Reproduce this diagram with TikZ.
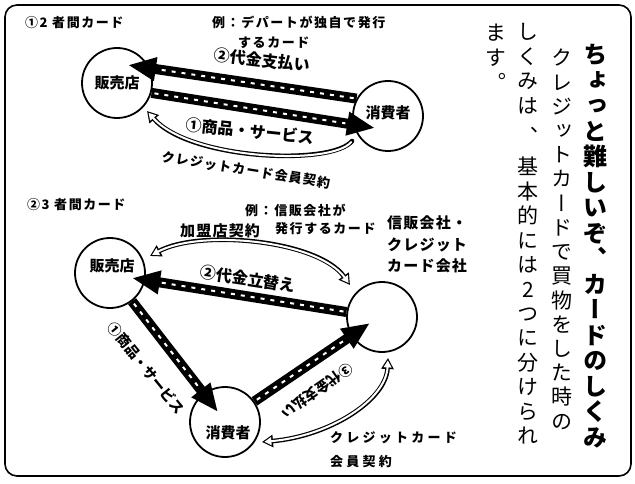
\documentclass[tikz,border=0pt]{standalone}
\usepackage{fontspec}
\usetikzlibrary{arrows.meta}
\newfontfamily\jp{Noto Sans CJK JP}
\newfontfamily\jpv[RawFeature=+vert]{Noto Sans CJK JP}
\newcommand\jfs[1]{\fontsize{#1}{#1}\selectfont}
\begin{document}
\begin{tikzpicture}[x=1pt,y=-1pt,
  circ/.style={circle,draw,line width=1.8pt,minimum size=70pt,inner sep=0pt,fill=white},
  ctext/.style={inner sep=0pt,font=\jp\bfseries\jfs{15}},
  bigar/.style={line width=10pt,-{Triangle[length=28pt,width=22pt]},
     postaction={draw=white,line width=2pt,arrows=-,dash pattern=on 4pt off 6pt,shorten >=30pt,shorten <=3pt}},
  holone/.style={line width=4.6pt,line cap=round,-{Triangle[length=11pt,width=12pt]},
     postaction={draw=white,line width=2pt,-{Triangle[length=7pt,width=7.6pt]},shorten >=2.4pt,shorten <=1.3pt}},
  holtwo/.style={line width=4.6pt,{Triangle[length=11pt,width=12pt]}-{Triangle[length=11pt,width=12pt]},
     postaction={draw=white,line width=2pt,{Triangle[length=7pt,width=7.6pt]}-{Triangle[length=7pt,width=7.6pt]},shorten >=2.4pt,shorten <=2.4pt}},
  head/.style={inner sep=0pt,anchor=west,font=\jp\bfseries\jfs{13}\addfontfeature{LetterSpace=12}},
  arlab/.style={inner sep=0pt,font=\jp\bfseries\jfs{16}},
  arlabs/.style={inner sep=0pt,font=\jp\bfseries\jfs{14}},
  smlab/.style={inner sep=0pt,font=\jp\bfseries\jfs{13}\addfontfeature{LetterSpace=10}},
  wlab/.style={inner sep=0pt,anchor=west,font=\jp\bfseries\jfs{13}\addfontfeature{LetterSpace=25}},
  cardlab/.style={inner sep=0pt,anchor=west,font=\jp\bfseries\jfs{15}\addfontfeature{LetterSpace=8}},
  vtitle/.style={inner sep=0pt,font=\jpv\bfseries\jfs{24},text height=21pt,text depth=3pt},
  vbody/.style={inner sep=0pt,font=\jpv\jfs{21},text height=18.5pt,text depth=2.5pt}
]
\useasboundingbox (0,0) rectangle (635,484);
\draw[line width=1.6pt,rounded corners=12pt] (5,5) rectangle (631,476);

% ---- top diagram
\node[head] (hd1) at (25,23) {①2 者間カード};
\node[head] (ex1a) at (212,22) {例：デパートが独自で発行};
\node[head] (ex1b) at (238,43) {するカード};

\node[circ] (shopA) at (117,83) {};
\node[circ] (consA) at (388,116) {};

\coordinate (hA1) at (352,141);
\coordinate (hA2) at (147,111);
\draw[holone] (hA1) .. controls (332,166) and (190,160) .. (hA2);

\coordinate (tA1) at (128,65);
\coordinate (tA2) at (375,128);
\draw[bigar] (consA.151) -- (tA1);
\draw[bigar] (shopA.-16) -- (tA2);

\node[ctext] (sAt) at (117,83) {販売店};
\node[ctext] (cAt) at (388,113) {消費者};

\node[arlab,rotate=-7] (lA1) at (262,60) {②代金支払い};
\node[arlab,rotate=-6] (lA2) at (250,131) {①商品・サービス};
\node[smlab,rotate=-9] (lA3) at (246,170) {クレジットカード会員契約};

% ---- bottom diagram
\node[head] (hd2) at (27,205) {②3 者間カード};
\node[head] (ex2a) at (245,210) {例：信販会社が};
\node[head] (ex2b) at (275,229) {発行するカード};
\node[cardlab] (kam) at (180,231) {加盟店契約};
\node[cardlab] (cb1) at (387,223) {信販会社・};
\node[cardlab] (cb2) at (387,245) {クレジット};
\node[cardlab] (cb3) at (387,266) {カード会社};

\node[circ] (shopB) at (110,273) {};
\node[circ] (cardB) at (382,317) {};
\node[circ] (consB) at (225,422) {};

\coordinate (hB1) at (150,256);
\coordinate (hB2) at (350,285);
\draw[holtwo] (hB1) .. controls (200,229) and (318,240) .. (hB2);
\coordinate (hB3) at (262,442);
\coordinate (hB4) at (388,358);
\draw[holtwo] (hB3) .. controls (330,436) and (386,400) .. (hB4);

\coordinate (tB1) at (132,278);
\coordinate (tB2) at (218,412);
\coordinate (tB3) at (370,323);
\draw[bigar] (cardB.172) -- (tB1);
\draw[bigar] (shopB.-52) -- (tB2);
\draw[bigar] (consB.35) -- (tB3);

\node[ctext] (sBt) at (112,266) {販売店};
\node[ctext] (cBt) at (228,433) {消費者};

\node[arlab,rotate=-8.7] (lB1) at (248,279) {②代金立替え};
\node[arlabs,rotate=-51] (lB2) at (146,368) {①商品・サービス};
\node[arlabs,rotate=-145] (lB3) at (317,391) {③代金支払い};

\node[wlab] (kc1) at (330,438) {クレジットカード};
\node[wlab] (kc2) at (330,462) {会員契約};

% ---- vertical text
\foreach \c [count=\i from 0] in {ち,ょ,っ,と,難,し,い,ぞ,、,カ,ー,ド,の,し,く,み}
  \node[vtitle] (tt\i) at (595,{55+25.47*\i}) {\c};
\foreach \c [count=\i from 0] in {ク,レ,ジ,ッ,ト,カ,ー,ド,で,買,物,を,し,た,時,の}
  \node[vbody] (ba\i) at (562,{58+24.2*\i}) {\c};
\foreach \c [count=\i from 0] in {し,く,み,は}
  \node[vbody] (bb\i) at (528,{32+24.5*\i}) {\c};
\node[vbody] (bbc) at (528,137) {、};
\foreach \c [count=\i from 0] in {基,本,的,に,は,2,つ,に,分,け,ら,れ}
  \node[vbody] (bd\i) at (528,{167+24.4*\i}) {\c};
\foreach \c [count=\i from 0] in {ま,す,。}
  \node[vbody] (bc\i) at (496,{33+25*\i}) {\c};
\end{tikzpicture}
\end{document}
